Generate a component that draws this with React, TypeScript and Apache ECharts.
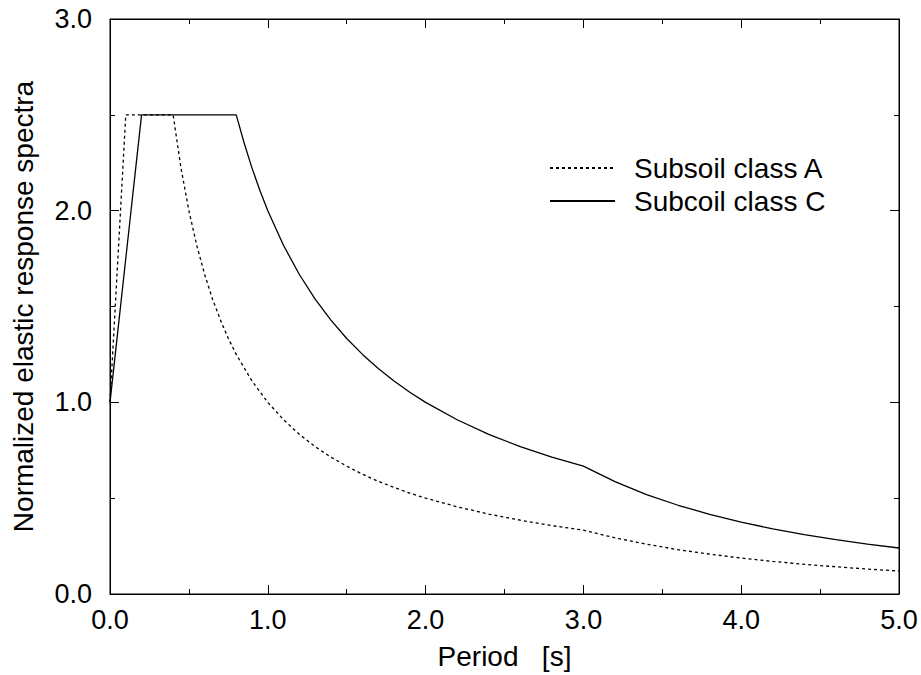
import React, { useEffect, useRef } from "react";
import * as echarts from "echarts";

const periodA = [0, 0.1, 0.4, 0.45, 0.5, 0.55, 0.6, 0.65, 0.7, 0.75, 0.8, 0.9, 1.0, 1.1, 1.2, 1.3, 1.4, 1.5, 1.6, 1.7, 1.8, 1.9, 2.0, 2.2, 2.4, 2.6, 2.8, 3.0, 3.2, 3.4, 3.6, 3.8, 4.0, 4.2, 4.4, 4.6, 4.8, 5.0];
const spectraA = [1.0, 2.5, 2.5, 2.222, 2.0, 1.818, 1.667, 1.538, 1.429, 1.333, 1.25, 1.111, 1.0, 0.909, 0.833, 0.769, 0.714, 0.667, 0.625, 0.588, 0.556, 0.526, 0.5, 0.455, 0.417, 0.385, 0.357, 0.333, 0.293, 0.26, 0.231, 0.208, 0.1875, 0.17, 0.155, 0.142, 0.13, 0.12];

const periodC = [0, 0.2, 0.8, 0.85, 0.9, 0.95, 1.0, 1.1, 1.2, 1.3, 1.4, 1.5, 1.6, 1.7, 1.8, 1.9, 2.0, 2.2, 2.4, 2.6, 2.8, 3.0, 3.2, 3.4, 3.6, 3.8, 4.0, 4.2, 4.4, 4.6, 4.8, 5.0];
const spectraC = [1.0, 2.5, 2.5, 2.353, 2.222, 2.105, 2.0, 1.818, 1.667, 1.538, 1.429, 1.333, 1.25, 1.176, 1.111, 1.053, 1.0, 0.909, 0.833, 0.769, 0.714, 0.667, 0.586, 0.519, 0.463, 0.416, 0.375, 0.34, 0.31, 0.284, 0.26, 0.24];

const seriesNames = ["Subsoil class A", "Subcoil class C"];
const xTitle = "Period   [s]";
const yTitle = "Normalized elastic response spectra";

const FONT = "'Liberation Sans', Arial, Helvetica, sans-serif";

export default function App() {
  const ref = useRef<HTMLDivElement>(null);
  useEffect(() => {
    if (!ref.current) return;
    const chart = echarts.init(ref.current, undefined, { renderer: "svg" });
    const axisLine = { show: true, onZero: false, lineStyle: { color: "#000", width: 1 } };
    const tick = { show: true, inside: true, length: 9, lineStyle: { color: "#000" } };
    const minor = { show: true, splitNumber: 2, length: 5, lineStyle: { color: "#000" } };
    const label = {
      fontFamily: FONT,
      fontSize: 27,
      color: "#000",
      formatter: (v: number) => v.toFixed(1),
    };
    const titleStyle = { fontFamily: FONT, fontSize: 28, color: "#000" };
    chart.setOption({
      animation: false,
      backgroundColor: "#fff",
      grid: {
        left: 110,
        right: 22,
        top: 19,
        bottom: 81,
        containLabel: false,
        show: true,
        borderColor: "#000",
        borderWidth: 1,
        backgroundColor: "transparent",
      },
      legend: {
        show: true,
        orient: "vertical",
        left: 549,
        top: 154,
        padding: 0,
        itemWidth: 65,
        itemHeight: 14,
        itemGap: 5,
        data: seriesNames,
        itemStyle: { opacity: 0 },
        textStyle: { fontFamily: FONT, fontSize: 28, color: "#000", lineHeight: 28, padding: [0, 0, 0, 14] },
      },
      xAxis: [
        {
          type: "value",
          min: 0,
          max: 5,
          interval: 1,
          position: "bottom",
          axisLine,
          axisTick: tick,
          minorTick: minor,
          splitLine: { show: false },
          axisLabel: { ...label, margin: 12 },
          name: xTitle,
          nameLocation: "middle",
          nameGap: 48,
          nameTextStyle: titleStyle,
        },
        {
          type: "value",
          min: 0,
          max: 5,
          interval: 1,
          position: "top",
          axisLine,
          axisTick: tick,
          minorTick: minor,
          splitLine: { show: false },
          axisLabel: { show: false },
        },
      ],
      yAxis: [
        {
          type: "value",
          min: 0,
          max: 3,
          interval: 1,
          position: "left",
          axisLine,
          axisTick: tick,
          minorTick: minor,
          splitLine: { show: false },
          axisLabel: { ...label, margin: 18 },
          name: yTitle,
          nameLocation: "middle",
          nameGap: 73,
          nameTextStyle: titleStyle,
        },
        {
          type: "value",
          min: 0,
          max: 3,
          interval: 1,
          position: "right",
          axisLine,
          axisTick: tick,
          minorTick: minor,
          splitLine: { show: false },
          axisLabel: { show: false },
        },
      ],
      series: [
        {
          name: seriesNames[0],
          type: "line",
          xAxisIndex: 0,
          yAxisIndex: 0,
          symbol: "none",
          data: periodA.map((p, i) => [p, spectraA[i]]),
          lineStyle: { color: "#000", width: 1.3, type: [3, 3] },
          itemStyle: { color: "#000" },
        },
        {
          name: seriesNames[1],
          type: "line",
          xAxisIndex: 0,
          yAxisIndex: 0,
          symbol: "none",
          data: periodC.map((p, i) => [p, spectraC[i]]),
          lineStyle: { color: "#000", width: 1.3, type: "solid" },
          itemStyle: { color: "#000" },
        },
      ],
    });
    return () => chart.dispose();
  }, []);
  return <div ref={ref} style={{ width: 921, height: 675, position: "absolute", left: 0, top: 0 }} />;
}
